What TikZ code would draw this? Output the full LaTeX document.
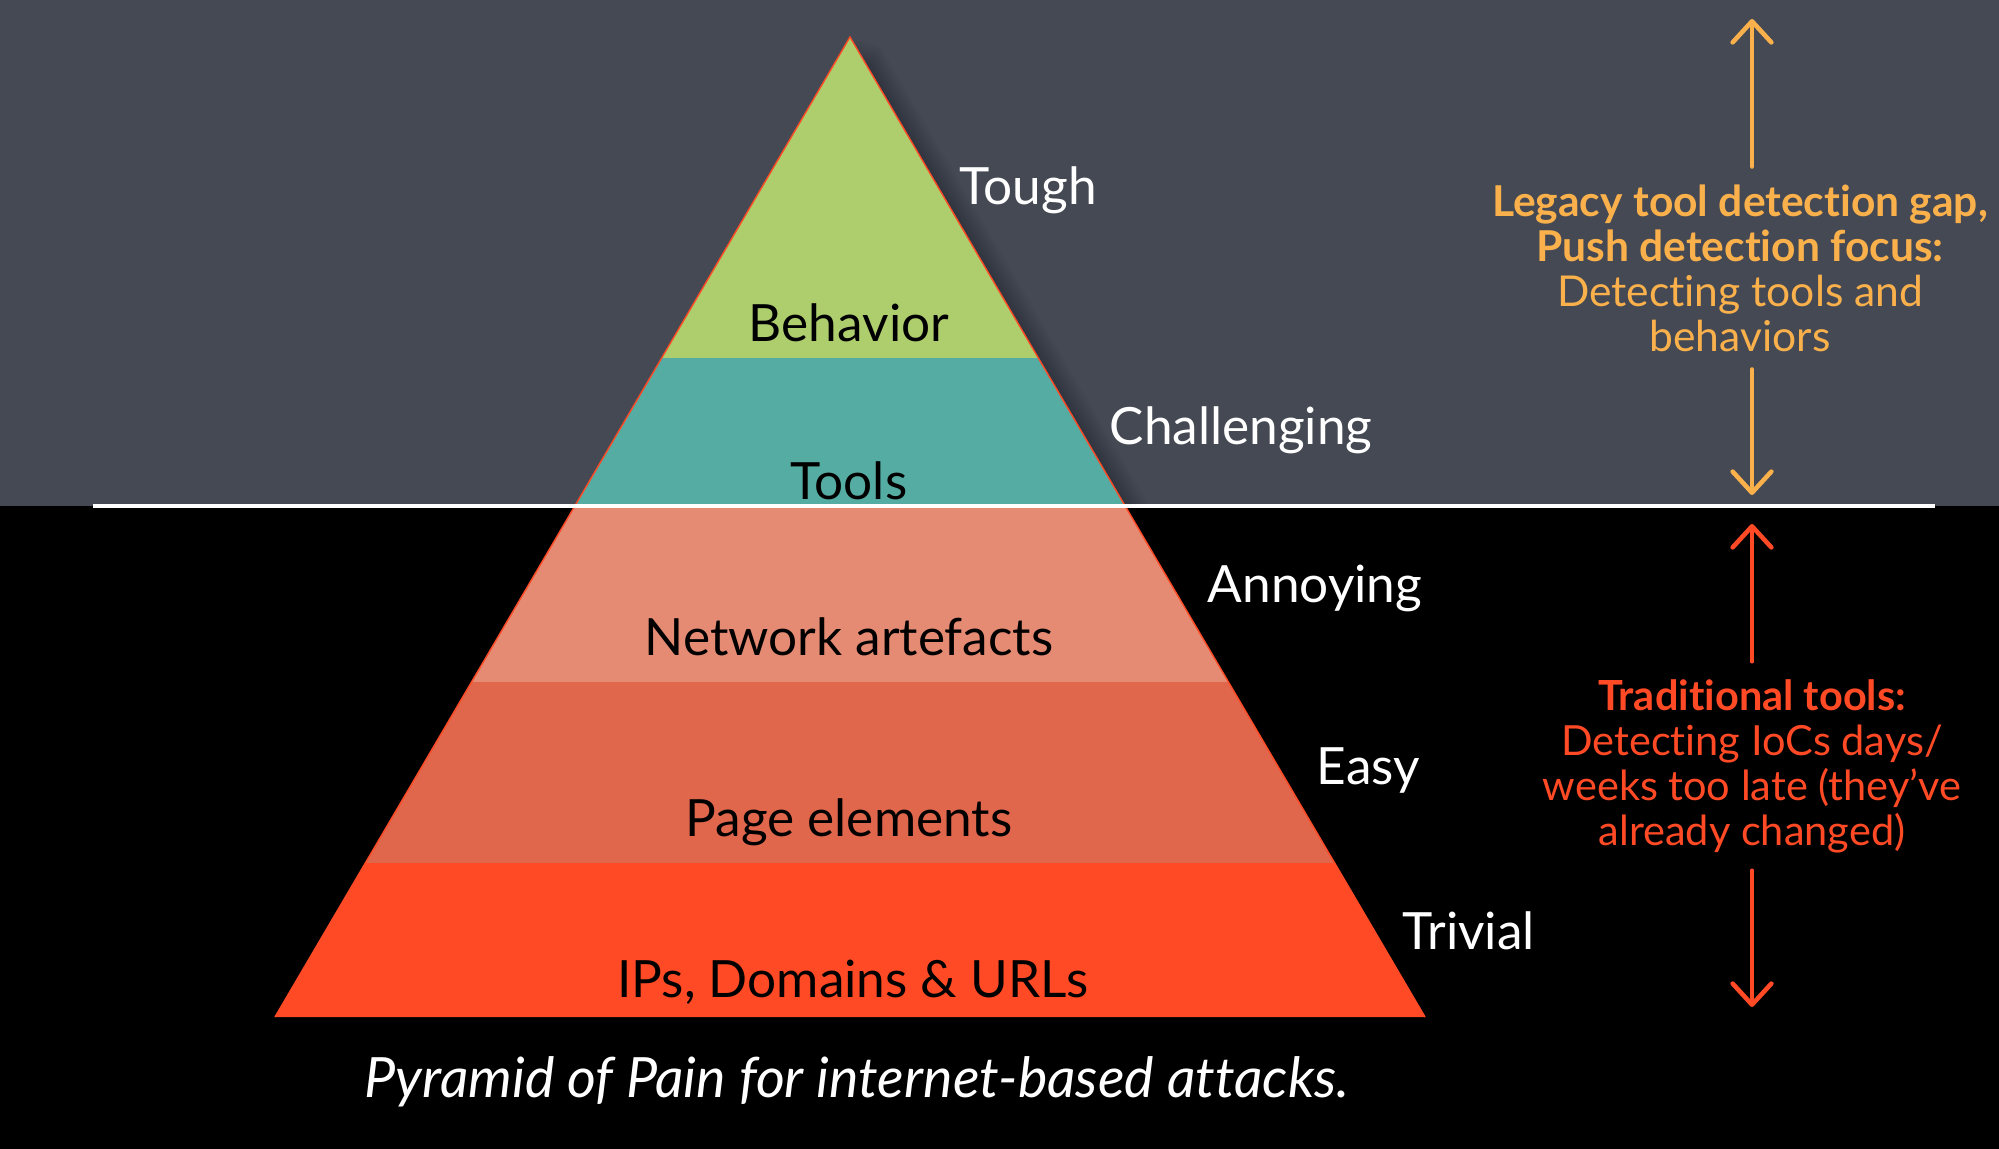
\documentclass[tikz,border=0pt]{standalone}
\usepackage{fontspec}
\setmainfont{Lato}[Ligatures=NoCommon]
\usetikzlibrary{
    arrows.meta,
    positioning,
    calc
}
\definecolor{skygray}{HTML}{454954}
\definecolor{behgreen}{HTML}{AECE6E}
\definecolor{toolteal}{HTML}{55ACA2}
\definecolor{netsalmon}{HTML}{E58A73}
\definecolor{pagecoral}{HTML}{E0664C}
\definecolor{ipred}{HTML}{FF4A25}
\definecolor{gaporange}{HTML}{FAB14C}

\begin{document}
\begin{tikzpicture}[
    x=0.01cm, y=-0.01cm,
    layer/.style={font=\fontsize{14.6}{17}\selectfont, text=black, inner sep=0pt},
    level/.style={font=\fontsize{14.6}{17}\selectfont, text=white, anchor=west, inner sep=0pt},
    note/.style={align=center, inner sep=0pt, outer ysep=0.18cm},
    gapline/.style={draw=gaporange, line width=1.3pt, line cap=round, -{Straight Barb[length=6pt,width=11pt,round]}},
    tradline/.style={draw=ipred, line width=1.3pt, line cap=round, -{Straight Barb[length=6pt,width=11pt,round]}}
]
\useasboundingbox (0,0) rectangle (1999,1149);

% background
\fill[skygray] (0,0) rectangle (1999,506);
\fill[black] (0,506) rectangle (1999,1149);

% soft shadow right of the pyramid
\begin{scope}
    \clip (0,0) rectangle (1999,506);
    \foreach \s in {3,6,...,30}
        \fill[black, opacity=0.025, shift={(\s,\s*0.3)}] (850,37) -- (1425,1017) -- (275,1017) -- cycle;
\end{scope}

% pyramid
\coordinate (apex) at (850,37);
\coordinate (bl) at (275,1017);
\coordinate (br) at (1425,1017);
\foreach \ta/\tb/\col in {0/0.3276/behgreen, 0.3276/0.4786/toolteal, 0.4786/0.6582/netsalmon, 0.6582/0.8429/pagecoral, 0.8429/1/ipred}
    \fill[\col] ($(apex)!\ta!(bl)$) -- ($(apex)!\tb!(bl)$) -- ($(apex)!\tb!(br)$) -- ($(apex)!\ta!(br)$) -- cycle;
\draw[ipred, line width=0.4pt] (bl) -- (apex) -- (br);

% horizon
\draw[white, line width=0.9pt] (93,506) -- (1935,506);

% layer names
\node[layer] (behavior) at (849,323) {Behavior};
\node[layer] (tools) at (849,481) {Tools};
\node[layer] (network) at (849,637) {Network artefacts};
\node[layer] (page) at (849,822) {Page elements};
\node[layer] (ips) at (853,982) {IPs, Domains \& URLs};

% difficulty levels
\node[level] (tough) at (959,190) {Tough};
\node[level] (challenging) at (1109,430) {Challenging};
\node[level] (annoying) at (1207,588) {Annoying};
\node[level] (easy) at (1316,771) {Easy};
\node[level] (trivial) at (1402,931) {Trivial};

% caption
\node[font=\fontsize{15.8}{18}\selectfont\itshape, text=white, inner sep=0pt] (caption) at (857,1082) {Pyramid of Pain for internet-based attacks.};

% side notes
\node[note, text=gaporange, font=\fontsize{12.1}{12.8}\selectfont] (gaptext) at (1740,268)
    {\textbf{Legacy tool detection gap,}\\ \textbf{Push detection focus:}\\ Detecting tools and\\ behaviors};
\node[note, text=ipred, font=\fontsize{11.8}{12.8}\selectfont] (tradtext) at (1752,766)
    {\textbf{Traditional tools:}\\ Detecting IoCs days/\\ weeks too late (they’ve\\ already changed)};

\coordinate (gaptop) at (1752,19);
\coordinate (gapbot) at (1752,495);
\coordinate (tradtop) at (1752,524);
\coordinate (tradbot) at (1752,1007);

\draw[gapline] (gaptext.north -| gaptop) -- (gaptop);
\draw[gapline] (gaptext.south -| gapbot) -- (gapbot);
\draw[tradline] (tradtext.north -| tradtop) -- (tradtop);
\draw[tradline] (tradtext.south -| tradbot) -- (tradbot);

\end{tikzpicture}
\end{document}
